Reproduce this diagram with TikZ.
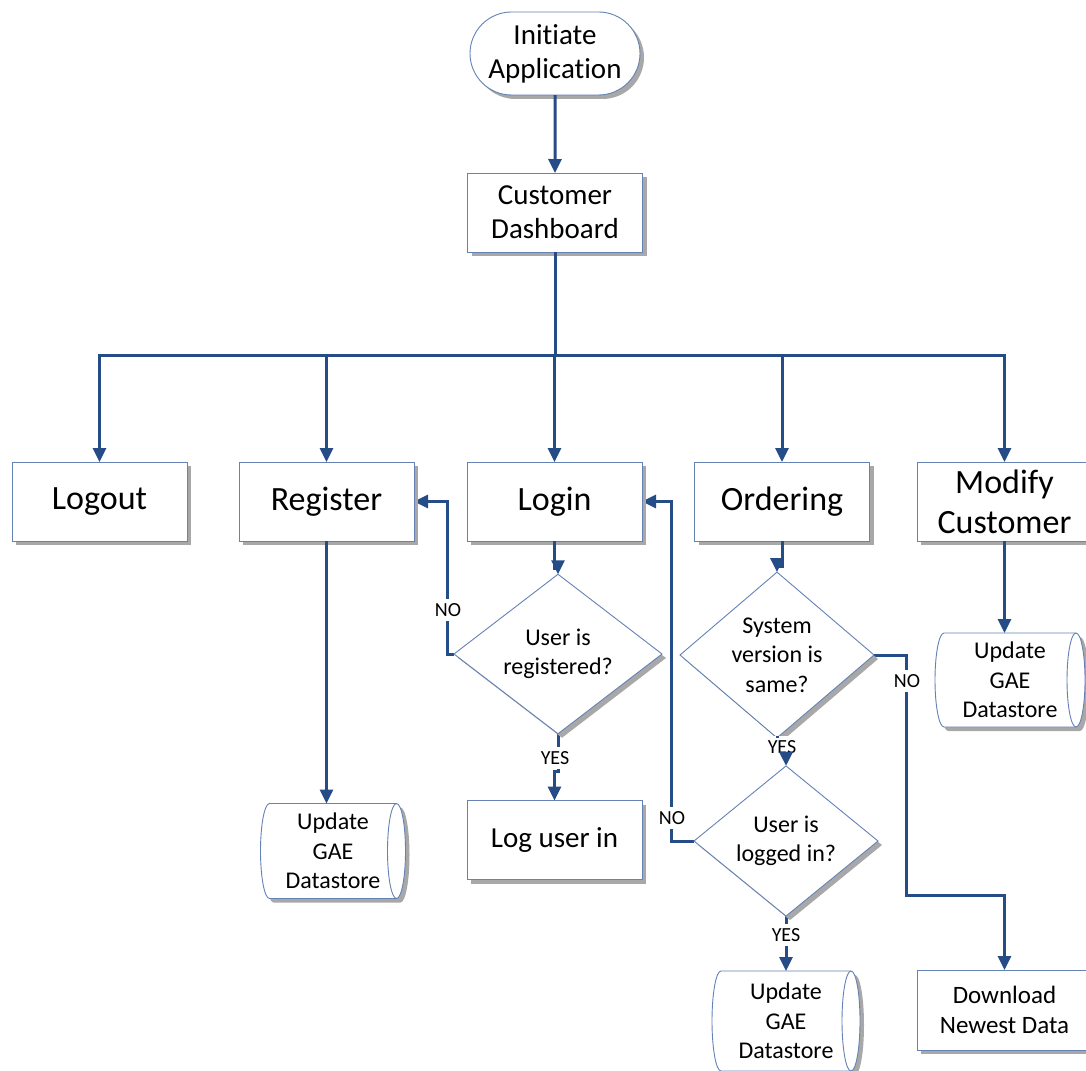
\documentclass[tikz,border=0pt]{standalone}
\usepackage{fontspec}
\setmainfont{Carlito}[Ligatures=NoCommon]
\usetikzlibrary{arrows.meta,shapes.geometric,shapes.misc,shadows,backgrounds,calc}

\definecolor{linkblue}{RGB}{38,76,135}
\definecolor{edgeblue}{RGB}{100,130,180}
\definecolor{shade}{RGB}{168,168,168}

\tikzset{
  shd/.style={drop shadow={shadow xshift=4pt,shadow yshift=-4pt,fill=shade,opacity=1}},
  bigtxt/.style={font=\fontsize{34}{40}\selectfont},
  midtxt/.style={font=\fontsize{29}{34}\selectfont},
  smalltxt/.style={font=\fontsize{24}{29.5}\selectfont},
  outline/.style={draw=edgeblue,line width=0.9pt,fill=white},
  procbox/.style={rectangle,outline,shd,minimum width=175pt,minimum height=79pt,
    align=center,inner sep=2pt,outer sep=0pt},
  terminal/.style={rounded rectangle,outline,shd,minimum width=174pt,minimum height=83pt,
    align=center,inner sep=2pt,outer sep=0pt,midtxt},
  decision/.style={diamond,outline,shd,align=center,inner sep=0pt,outer sep=0pt,smalltxt},
  store/.style={rectangle,draw=none,align=center,inner sep=0pt,outer sep=0pt,smalltxt},
  link/.style={draw=linkblue,line width=3pt},
  flow/.style={link,-{Triangle[length=14pt,width=13pt]}},
  tag/.style={fill=white,inner xsep=2pt,inner ysep=4pt,outer sep=0pt,font=\fontsize{20}{22}\selectfont},
}

% outline of a stored-data symbol behind node #1 (half height #2)
\newcommand\drawstore[2]{%
  \begin{scope}[on background layer]
    \filldraw[outline,shd]
      ([xshift=9pt]#1.north west) -- ([xshift=-9pt]#1.north east)
      arc[start angle=90,end angle=-90,x radius=9pt,y radius=#2]
      -- ([xshift=9pt]#1.south west)
      arc[start angle=270,end angle=90,x radius=9pt,y radius=#2] -- cycle;
    \draw[draw=edgeblue,line width=0.9pt] ([xshift=-9pt]#1.north east)
      arc[start angle=90,end angle=270,x radius=9pt,y radius=#2];
  \end{scope}}

\begin{document}
\begin{tikzpicture}[x=1pt,y=-1pt]
\useasboundingbox (0,0) rectangle (1086,1070);

% start and dashboard
\node[terminal] (start) at (555,53.5) {Initiate\\Application};
\node[procbox,midtxt] (dash) at (555,212.5) {Customer\\Dashboard};

% top-level actions
\node[procbox,bigtxt] (logout)   at (99.5,501.5)  {Logout};
\node[procbox,bigtxt] (register) at (326.5,501.5) {Register};
\node[procbox,bigtxt] (login)    at (554.5,501.5) {Login};
\node[procbox,bigtxt] (ordering) at (782,501.5)   {Ordering};
\node[procbox,bigtxt] (modify)   at (1004.5,501.5) {Modify\\Customer};

% decisions
\node[decision,minimum width=208pt,minimum height=132pt] (d1) at (558,654) {User is\\registered?};
\node[decision,minimum width=194pt,minimum height=134pt] (d2) at (777,655) {System\\version is\\same?};
\node[decision,minimum width=184pt,minimum height=118pt] (d3) at (786,841) {User is\\logged in?};

% results
\node[procbox,midtxt] (loguser) at (554.5,840) {Log user in};
\node[procbox,minimum height=80pt,font=\fontsize{25}{30}\selectfont] (dl) at (1004.5,1010) {Download\\Newest Data};

% data stores
\node[store,minimum width=145pt,minimum height=95pt] (ds1) at (333,851) {Update\\GAE\\Datastore};
\drawstore{ds1}{47.5pt}
\node[store,minimum width=150pt,minimum height=94pt] (ds2) at (1010,680) {Update\\GAE\\Datastore};
\drawstore{ds2}{47pt}
\node[store,minimum width=148pt,minimum height=100pt] (ds3) at (786,1021) {Update\\GAE\\Datastore};
\drawstore{ds3}{50pt}

% branch labels
\node[tag] (no1)  at (448,610) {NO};
\node[tag] (no2)  at (672,818) {NO};
\node[tag] (no3)  at (907,681) {NO};
\node[tag] (yes1) at (555,758) {YES};
\node[tag] (yes2) at (782,747) {YES};
\node[tag] (yes3) at (786,935) {YES};

% connectors
\coordinate (bus) at (555,355);
\draw[flow] (start) -- (dash);
\draw[link] (dash.south) -- (bus);
\foreach \n in {logout,register,login,ordering,modify}
  \draw[flow] (bus) -| (\n.north);

\draw[flow] (register.south) -- (register.south |- ds1.north);
\draw[flow] (login.south) -- ++(0,27) -| (d1.north);
\begin{scope}[on background layer]
  \draw[flow] (d1.south) -- ++(0,38) -| (loguser.north);
  \draw[flow] (d1.west) -- ++(-7,0) |- (register.east);
  \draw[flow] (d2.east) -- ++(32,0) -- ++(0,240) -| (dl.north);
  \draw[flow] (d3.west) -- ++(-23,0) |- (login.east);
  \draw[flow] (d3.south) -- (d3.south |- ds3.north);
\end{scope}
\draw[flow] (ordering.south) -- ++(0,25) -| (d2.north);
\draw[link] (d2.south) -- (d2.south |- yes2.north);
\draw[flow] (yes2.south -| d3.north) -- (d3.north);
\draw[flow] (modify.south) -- (modify.south |- ds2.north);
\end{tikzpicture}
\end{document}
